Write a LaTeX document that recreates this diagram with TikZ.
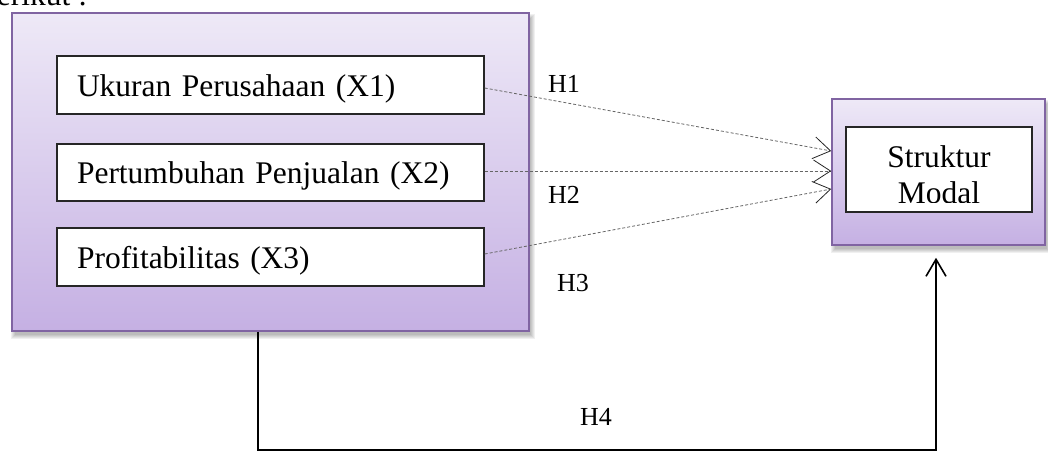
\documentclass[tikz,border=0pt]{standalone}
\usepackage{fontspec}
\setmainfont{Liberation Serif}
\usetikzlibrary{arrows.meta,calc}

\definecolor{panelTop}{HTML}{EEE9F7}
\definecolor{panelBot}{HTML}{C5B0E3}
\definecolor{panelEdge}{HTML}{8064A2}

\newcommand{\bodysize}{\fontsize{31.5}{36}\selectfont}
\newcommand{\hypsize}{\fontsize{26}{30}\selectfont}

\tikzset{
  panel/.style={draw=panelEdge, line width=1.5pt, top color=panelTop,
    bottom color=panelBot, inner sep=0pt},
  varbox/.style={draw=black!85, line width=1.3pt, fill=white,
    minimum width=427pt, minimum height=58pt, text width=387pt,
    inner xsep=20pt, inner ysep=0pt, align=left, font=\bodysize,
    text height=22pt, text depth=0pt},
  ybox/.style={draw=black!85, line width=1.3pt, fill=white,
    minimum width=186pt, minimum height=85pt, inner sep=0pt},
  ytext/.style={font=\bodysize, inner sep=0pt, anchor=base},
  hlabel/.style={font=\hypsize, inner sep=0pt, anchor=base west},
  hypo/.style={draw=black!60, line width=0.8pt, dash pattern=on 3pt off 2pt,
    -{Straight Barb[length=17pt, width=22pt, line width=0.8pt, color=black!85]}},
  joint/.style={draw=black, line width=2pt,
    -{Straight Barb[length=17pt, width=20pt, line width=1.6pt]}},
}

\begin{document}
\begin{tikzpicture}[x=1pt, y=-1pt]
\useasboundingbox (0,0) rectangle (1048,458);

% lead-in text, running off the top edge
\node[font=\bodysize, anchor=base west, inner sep=0pt] (intro) at (-19,5) {berikut :};

% soft shadows under the two panels
\foreach \s in {0,1,2,3,4}{
  \fill[black, opacity=0.06] (15-\s,18-\s) rectangle (531+\s,335+\s);
  \fill[black, opacity=0.06] (835-\s,104-\s) rectangle (1047+\s,249+\s);
}

% independent variables panel
\node[panel, minimum width=517pt, minimum height=318pt] (big) at (270.5,172) {};
\node[varbox] (x1) at (270.5,85) {Ukuran Perusahaan (X1)};
\node[varbox, minimum height=57pt] (x2) at (270.5,172.5) {Pertumbuhan Penjualan (X2)};
\node[varbox] (x3) at (270.5,257) {Profitabilitas (X3)};

% dependent variable panel
\node[panel, minimum width=213pt, minimum height=146pt] (rb) at (938.5,172) {};
\node[ybox] (yb) at (939,169.5) {};
\begin{scope}
  \clip (yb.north west) rectangle ($(yb.south east)+(0,-10)$);
  \node[ytext] (y1) at (939,167) {Struktur};
  \node[ytext] (y2) at (939,203) {Modal};
\end{scope}

% partial hypotheses
\draw[hypo] ($(x1.east)+(0,3)$) -- ($(rb.west)+(0,-21)$);
\draw[hypo] ($(x2.east)+(0,-1.5)$) -- ($(rb.west)+(0,-1)$);
\draw[hypo] ($(x3.east)+(0,-3)$) -- ($(rb.west)+(0,17)$);

\node[hlabel] (h1) at (548,92) {H1};
\node[hlabel] (h2) at (548,203) {H2};
\node[hlabel] (h3) at (557,291) {H3};

% joint hypothesis
\coordinate (cl) at (258,450);
\coordinate (cr) at (936,450);
\draw[joint] (big.south -| cl) -- (cl) -- (cr) -- ($(rb.south -| cr)+(0,12)$);
\node[hlabel] (h4) at (580,425) {H4};
\end{tikzpicture}
\end{document}
